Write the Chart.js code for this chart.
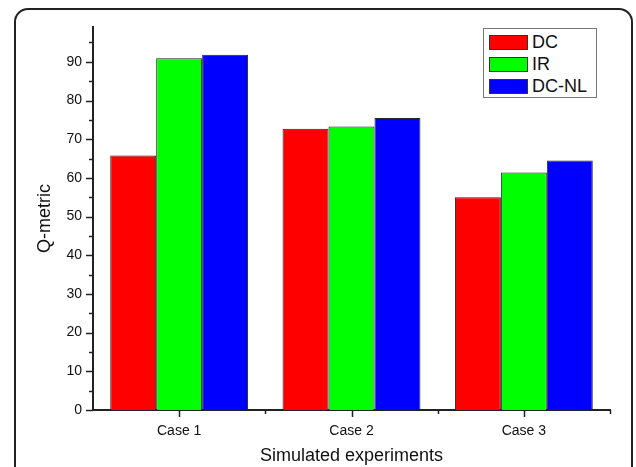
<!DOCTYPE html>
<html lang="en">
<head>
    <meta charset="UTF-8">
    <title>Q-metric per simulated experiment</title>
    <script src="https://cdn.jsdelivr.net/npm/chart.js"></script>
    <style>
        html, body {
            margin: 0;
            padding: 0;
            width: 636px;
            height: 467px;
            overflow: hidden;
            background: #fff;
            font-family: 'Liberation Sans', Arial, sans-serif;
        }
        .frame {
            position: absolute;
            left: 14px;
            top: 8px;
            width: 615px;
            height: 490px;
            border: 2px solid #222;
            border-radius: 14px;
        }
        .chart-box {
            position: absolute;
            left: 0;
            top: 0;
            width: 636px;
            height: 467px;
        }
        #legend {
            position: absolute;
            left: 483px;
            top: 28px;
            width: 114px;
            height: 70px;
            border: 1px solid #777;
            background: #fff;
            box-sizing: border-box;
            padding: 2px 0 0 5px;
        }
        .legend-row {
            display: flex;
            align-items: center;
            height: 22px;
            font-size: 18px;
            color: #111;
        }
        .legend-swatch {
            width: 39px;
            height: 15px;
            border: 1px solid #333;
            box-sizing: border-box;
            margin-right: 4px;
        }
    </style>
</head>
<body>
    <div class="frame"></div>
    <div class="chart-box">
        <canvas id="qChart" width="636" height="467"></canvas>
    </div>
    <div id="legend"></div>

    <script>
        // Dados
        const cases = ['Case 1', 'Case 2', 'Case 3'];
        const seriesNames = ['DC', 'IR', 'DC-NL'];
        const dcValues = [65.8, 72.7, 55.0];
        const irValues = [90.9, 73.3, 61.4];
        const dcnlValues = [91.8, 75.5, 64.5];
        const seriesColors = ['#ff0000', '#00ff00', '#0000ff'];

        const yMin = 0;
        const yMax = 99;
        const yStep = 5;

        const fontFamily = "'Liberation Sans', Arial, sans-serif";

        // desenha os traços dos eixos (maiores e menores)
        const tickMarks = {
            id: 'tickMarks',
            afterDraw(chart) {
                const ctx = chart.ctx;
                const x = chart.scales.x;
                const y = chart.scales.y;
                ctx.save();
                ctx.strokeStyle = '#222';
                ctx.lineWidth = 1.5;
                ctx.beginPath();
                y.ticks.forEach(t => {
                    const py = Math.round(y.getPixelForValue(t.value)) + 0.5;
                    const len = t.value % 10 === 0 ? 7 : 4;
                    ctx.moveTo(y.right - len, py);
                    ctx.lineTo(y.right, py);
                });
                cases.forEach((c, i) => {
                    const px = Math.round(x.getPixelForValue(i)) + 0.5;
                    ctx.moveTo(px, x.top);
                    ctx.lineTo(px, x.top + 7);
                    const pb = Math.round(x.getPixelForValue(i + 0.5)) + 0.5;
                    ctx.moveTo(pb, x.top);
                    ctx.lineTo(pb, x.top + 4);
                });
                ctx.stroke();
                ctx.restore();
            }
        };

        const datasets = [dcValues, irValues, dcnlValues].map((vals, i) => ({
            label: seriesNames[i],
            data: vals,
            backgroundColor: seriesColors[i],
            borderColor: '#222',
            borderWidth: 1,
            categoryPercentage: 0.8,
            barPercentage: 1.0
        }));

        const qChart = new Chart(document.getElementById('qChart'), {
            type: 'bar',
            data: {
                labels: cases,
                datasets: datasets
            },
            options: {
                responsive: false,
                animation: false,
                layout: {
                    padding: { left: 0, top: 27, right: 26, bottom: 0 }
                },
                plugins: {
                    legend: { display: false },
                    tooltip: { enabled: false }
                },
                scales: {
                    x: {
                        offset: true,
                        grid: { display: false },
                        border: { display: true, color: '#222', width: 2 },
                        ticks: {
                            padding: 5,
                            color: '#111',
                            font: { family: fontFamily, size: 14 }
                        },
                        title: {
                            display: true,
                            text: 'Simulated experiments',
                            color: '#111',
                            font: { family: fontFamily, size: 18 },
                            padding: { top: 0, bottom: 0 }
                        },
                        afterFit(scale) { scale.height = 57; }
                    },
                    y: {
                        min: yMin,
                        max: yMax,
                        grid: { display: false },
                        border: { display: true, color: '#222', width: 2 },
                        ticks: {
                            stepSize: yStep,
                            includeBounds: false,
                            padding: 3,
                            color: '#111',
                            font: { family: fontFamily, size: 14 },
                            callback: v => (v % 10 === 0 ? v : '')
                        },
                        title: {
                            display: true,
                            text: 'Q-metric',
                            color: '#111',
                            font: { family: fontFamily, size: 18 },
                            padding: { top: 34, bottom: 0 }
                        },
                        afterFit(scale) { scale.width = 93; }
                    }
                }
            },
            plugins: [tickMarks]
        });

        // legenda em HTML, montada a partir dos datasets
        const legendEl = document.getElementById('legend');
        qChart.data.datasets.forEach(ds => {
            const row = document.createElement('div');
            row.className = 'legend-row';
            const sw = document.createElement('span');
            sw.className = 'legend-swatch';
            sw.style.background = ds.backgroundColor;
            const txt = document.createElement('span');
            txt.textContent = ds.label;
            row.appendChild(sw);
            row.appendChild(txt);
            legendEl.appendChild(row);
        });
    </script>
</body>
</html>
